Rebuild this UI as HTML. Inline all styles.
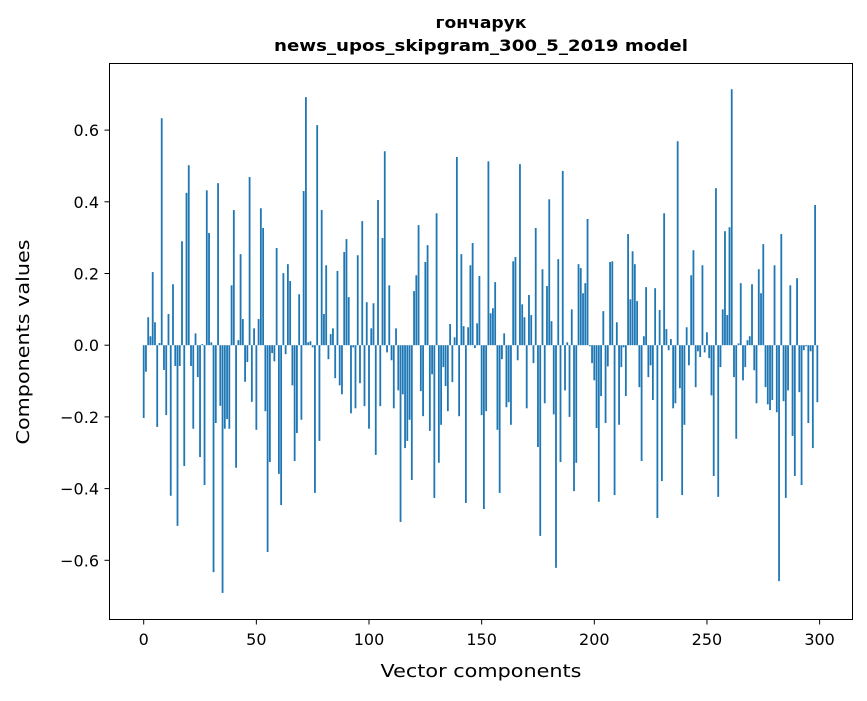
<!DOCTYPE html>
<html><head><meta charset="utf-8"><style>
body{margin:0;background:#fff;}
svg text{font-family:"DejaVu Sans","Liberation Sans",sans-serif;}
</style></head><body>
<svg id="chart" width="867" height="696" viewBox="0 0 867 696" xmlns="http://www.w3.org/2000/svg">
<rect width="867" height="696" fill="#fff"/>
<text x="481" y="28" text-anchor="middle" font-size="16" font-weight="bold" textLength="91" lengthAdjust="spacingAndGlyphs">гончарук</text>
<text x="481" y="51" text-anchor="middle" font-size="16" font-weight="bold" textLength="414" lengthAdjust="spacingAndGlyphs">news_upos_skipgram_300_5_2019 model</text>
<g id="bars"></g>
<rect x="109.5" y="63.5" width="743" height="556" fill="none" stroke="#000" stroke-width="1"/>
<g id="xticks"></g>
<g id="yticks"></g>
<text x="481" y="677" text-anchor="middle" font-size="18" textLength="201" lengthAdjust="spacingAndGlyphs">Vector components</text>
<text transform="translate(29,342) rotate(-90)" text-anchor="middle" font-size="18" textLength="205" lengthAdjust="spacingAndGlyphs">Components values</text>
</svg>
<script>
const values = [-0.203,-0.074,0.078,0.025,0.204,0.064,-0.228,0.006,0.633,-0.069,
-0.195,0.087,-0.42,0.17,-0.058,-0.504,-0.058,0.29,-0.337,0.425,
0.502,-0.058,-0.233,0.033,-0.089,-0.312,0.003,-0.39,0.432,0.313,
0.008,-0.633,-0.217,0.452,-0.169,-0.691,-0.233,-0.206,-0.233,0.167,
0.377,-0.342,0.014,0.254,0.073,-0.102,-0.047,0.469,-0.158,0.047,
-0.236,0.073,0.382,0.327,-0.184,-0.577,-0.326,-0.022,-0.045,0.271,
-0.359,-0.446,0.201,-0.025,0.226,0.179,-0.112,-0.323,-0.245,0.142,
-0.208,0.43,0.692,0.008,0.011,-0.006,-0.412,0.614,-0.267,0.377,
0.087,0.223,-0.039,0.031,0.047,-0.092,0.207,-0.112,-0.137,0.26,
0.296,0.134,-0.19,-0.006,-0.176,0.251,-0.106,0.346,-0.17,0.12,
-0.233,0.047,0.117,-0.306,0.405,-0.17,0.299,0.541,-0.02,0.167,
-0.042,-0.176,0.047,-0.126,-0.493,-0.137,-0.287,-0.267,-0.208,-0.376,
0.151,0.195,0.335,-0.128,-0.198,0.232,0.279,-0.239,-0.081,-0.426,
0.368,-0.328,-0.222,-0.061,-0.114,-0.184,0.059,-0.103,0.022,0.525,
-0.198,0.254,0.053,-0.44,0.05,0.223,0.285,-0.008,0.061,0.193,
-0.195,-0.457,-0.184,0.513,0.089,0.103,0.176,-0.236,-0.412,-0.039,
0.033,-0.173,-0.159,-0.222,0.234,0.246,-0.042,0.505,0.114,0.078,
-0.176,0.14,0.084,-0.05,0.327,-0.284,-0.532,0.212,-0.162,0.165,
0.407,0.067,-0.193,-0.621,0.24,-0.326,0.486,-0.126,0.008,-0.2,
0.1,-0.407,-0.328,0.226,0.215,0.145,0.173,0.352,-0.003,-0.05,
-0.098,-0.231,-0.437,-0.142,0.095,-0.217,-0.059,0.232,0.234,-0.418,
0.064,-0.222,-0.061,-0.006,-0.142,0.31,0.128,0.262,0.226,0.123,
-0.117,-0.323,0.025,0.162,-0.089,-0.056,-0.153,0.159,-0.482,0.098,
-0.379,0.368,0.045,-0.014,0.017,-0.176,-0.162,0.569,-0.12,-0.418,
-0.222,0.05,-0.056,0.195,0.265,-0.117,-0.017,-0.033,0.223,-0.02,
0.036,-0.036,-0.14,-0.365,0.438,-0.423,-0.061,0.1,0.318,0.084,
0.329,0.714,-0.089,-0.261,0.005,0.173,-0.098,-0.061,0.014,0.025,
0.17,-0.07,-0.162,0.212,0.145,0.282,-0.117,-0.165,-0.181,-0.153,
0.223,-0.187,-0.658,0.31,-0.156,-0.426,-0.126,0.167,-0.253,-0.365,
0.187,-0.131,-0.39,-0.014,-0.003,-0.217,-0.017,-0.287,0.391,-0.159];
const xTicks = [0,50,100,150,200,250,300];
const yTicks = [-0.6,-0.4,-0.2,0.0,0.2,0.4,0.6];
const yTickLabels = ["\u22120.6","\u22120.4","\u22120.2","0.0","0.2","0.4","0.6"];

const NS = "http://www.w3.org/2000/svg";
function xs(v){ return 143.7 + v*2.253; }
function ys(v){ return 345.2 - v*358.5; }
const barsG = document.getElementById('bars');
values.forEach((v,i)=>{
  const r = document.createElementNS(NS,'rect');
  const y0 = ys(0), y1 = ys(v);
  r.setAttribute('x', xs(i)-0.9);
  r.setAttribute('width', 1.8);
  r.setAttribute('y', Math.min(y0,y1));
  r.setAttribute('height', Math.max(Math.abs(y1-y0),0.3));
  r.setAttribute('fill', '#1f77b4');
  
  
  barsG.appendChild(r);
});
const xg = document.getElementById('xticks');
xTicks.forEach(t=>{
  const l = document.createElementNS(NS,'line');
  l.setAttribute('x1', xs(t)); l.setAttribute('x2', xs(t));
  l.setAttribute('y1', 619.5); l.setAttribute('y2', 624.5);
  l.setAttribute('stroke', '#000');
  
  
  xg.appendChild(l);
  const tx = document.createElementNS(NS,'text');
  tx.setAttribute('x', xs(t)); tx.setAttribute('y', 645);
  tx.setAttribute('text-anchor', 'middle'); tx.setAttribute('font-size', '16');
  tx.textContent = t;
  
  
  xg.appendChild(tx);
});
const yg = document.getElementById('yticks');
yTicks.forEach((t,k)=>{
  const l = document.createElementNS(NS,'line');
  l.setAttribute('x1', 104.5); l.setAttribute('x2', 109.5);
  l.setAttribute('y1', ys(t)); l.setAttribute('y2', ys(t));
  l.setAttribute('stroke', '#000');
  
  
  yg.appendChild(l);
  const tx = document.createElementNS(NS,'text');
  tx.setAttribute('x', 99); tx.setAttribute('y', ys(t)+6);
  tx.setAttribute('text-anchor', 'end'); tx.setAttribute('font-size', '16');
  tx.textContent = yTickLabels[k];
  
  
  yg.appendChild(tx);
});
</script>
</body></html>
